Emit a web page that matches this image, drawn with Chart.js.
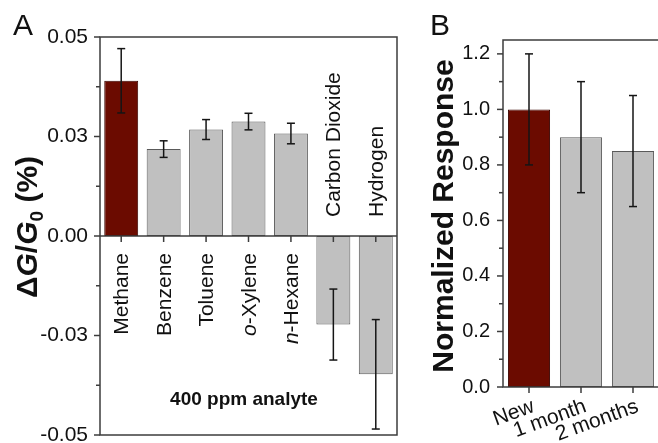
<!DOCTYPE html>
<html><head><meta charset="utf-8">
<script src="https://cdn.jsdelivr.net/npm/chart.js@4.4.1/dist/chart.umd.min.js"></script>
<style>
html,body{margin:0;padding:0;background:#fff;overflow:hidden;width:658px;height:443px;position:relative;}
#ca{position:absolute;left:0;top:0;}
#cb{position:absolute;left:400px;top:0;}
</style></head><body>
<canvas id="ca" width="402" height="443"></canvas>
<canvas id="cb" width="266" height="443"></canvas>
<script>
// ---------- Panel A data ----------
const categoriesA = ["Methane","Benzene","Toluene","o-Xylene","n-Hexane","Carbon Dioxide","Hydrogen"];
const valuesA = [0.0468, 0.0262, 0.0321, 0.0345, 0.0309, -0.0267, -0.0417];
const errorsA = [0.0097, 0.0025, 0.0030, 0.0025, 0.0031, 0.0107, 0.0165];
const majorTicksA = [-0.06, -0.03, 0, 0.03, 0.06];
const tickLabelsA = ["-0.05", "-0.03", "0.00", "0.03", "0.05"];
const minorTicksA = [-0.045, -0.015, 0.015, 0.045];

// ---------- Panel B data ----------
const categoriesB = ["New", "1 month", "2 months"];
const valuesB = [1.0, 0.9, 0.85];
const errorsB = [0.2, 0.2, 0.2];
const majorTicksB = [0, 0.2, 0.4, 0.6, 0.8, 1.0, 1.2];
const tickLabelsB = ["0.0", "0.2", "0.4", "0.6", "0.8", "1.0", "1.2"];
const minorTicksB = [0.1, 0.3, 0.5, 0.7, 0.9, 1.1];

const FONT = '"Liberation Sans", Arial, Helvetica, sans-serif';
const RED = '#6b0b00', RED_B = '#3a0600';
const GRAY = '#c0c0c0', GRAY_B = '#5a5a5a';
const AXIS = '#3c3c3c', TEXT = '#111111', ERR = '#151515';

function line(ctx, x1, y1, x2, y2) { ctx.beginPath(); ctx.moveTo(x1, y1); ctx.lineTo(x2, y2); ctx.stroke(); }

function drawRich(ctx, parts, x, y, rot, align) {
  ctx.save();
  ctx.translate(x, y);
  ctx.rotate(rot);
  let total = 0;
  parts.forEach(p => { ctx.font = p.font; p.w = ctx.measureText(p.t).width; total += p.w; });
  let cx = align === 'center' ? -total / 2 : align === 'right' ? -total : 0;
  ctx.textAlign = 'left';
  ctx.textBaseline = 'alphabetic';
  ctx.fillStyle = TEXT;
  parts.forEach(p => { ctx.font = p.font; ctx.fillText(p.t, cx, p.dy || 0); cx += p.w; });
  ctx.restore();
}

function labelParts(name, size) {
  const m = name.match(/^([on])-(.*)$/);
  if (m) return [{ t: m[1], font: `italic ${size}px ${FONT}` }, { t: '-' + m[2], font: `${size}px ${FONT}` }];
  return [{ t: name, font: `${size}px ${FONT}` }];
}

function errorBars(chart, errors, cap) {
  const ctx = chart.ctx, meta = chart.getDatasetMeta(0), ys = chart.scales.y;
  const vals = chart.data.datasets[0].data;
  ctx.save(); ctx.strokeStyle = ERR; ctx.lineWidth = 1.5;
  meta.data.forEach((bar, i) => {
    const x = bar.x;
    const yt = ys.getPixelForValue(vals[i] + errors[i]);
    const yb = ys.getPixelForValue(vals[i] - errors[i]);
    line(ctx, x, yt, x, yb);
    line(ctx, x - cap, yt, x + cap, yt);
    line(ctx, x - cap, yb, x + cap, yb);
  });
  ctx.restore();
}

function yTicks(chart, majors, minors) {
  const ctx = chart.ctx, a = chart.chartArea, ys = chart.scales.y;
  ctx.save(); ctx.strokeStyle = AXIS; ctx.lineWidth = 1.5;
  majors.forEach(v => { const y = ys.getPixelForValue(v); line(ctx, a.left - 6, y, a.left, y); });
  minors.forEach(v => { const y = ys.getPixelForValue(v); line(ctx, a.left - 4, y, a.left, y); });
  ctx.restore();
}

// ---------- Panel A ----------
const pluginA = {
  id: 'decoA',
  afterDatasetsDraw(chart) {
    const ctx = chart.ctx, a = chart.chartArea, ys = chart.scales.y, xs = chart.scales.x;
    const y0 = ys.getPixelForValue(0);
    ctx.save();
    ctx.strokeStyle = AXIS; ctx.lineWidth = 1.5;
    ctx.strokeRect(a.left, a.top, a.right - a.left, a.bottom - a.top);
    line(ctx, a.left, y0, a.right, y0);
    categoriesA.forEach((c, i) => { const x = xs.getPixelForValue(i); line(ctx, x, y0, x, y0 + 6); });
    ctx.restore();
    yTicks(chart, majorTicksA, minorTicksA);
    errorBars(chart, errorsA, 4);
    categoriesA.forEach((c, i) => {
      const x = xs.getPixelForValue(i) + 7;
      if (valuesA[i] >= 0) drawRich(ctx, labelParts(c, 21), x, y0 + 17, -Math.PI / 2, 'right');
      else drawRich(ctx, labelParts(c, 21), x, y0 - 19, -Math.PI / 2, 'left');
    });
    ctx.save();
    ctx.font = `bold 19px ${FONT}`; ctx.fillStyle = TEXT; ctx.textAlign = 'center'; ctx.textBaseline = 'middle';
    ctx.fillText('400 ppm analyte', 244, 400);
    ctx.restore();
    drawRich(ctx, [
      { t: 'Δ', font: `bold 30px ${FONT}` },
      { t: 'G', font: `italic bold 30px ${FONT}` },
      { t: '/', font: `bold 30px ${FONT}` },
      { t: 'G', font: `italic bold 30px ${FONT}` },
      { t: '0', font: `bold 19px ${FONT}`, dy: 6 },
      { t: ' (%)', font: `bold 30px ${FONT}` }
    ], 37, 227, -Math.PI / 2, 'center');
    ctx.save(); ctx.font = `30px ${FONT}`; ctx.fillStyle = TEXT; ctx.textBaseline = 'alphabetic';
    ctx.fillText('A', 13, 35); ctx.restore();
  }
};

new Chart(document.getElementById('ca'), {
  type: 'bar',
  data: {
    labels: categoriesA,
    datasets: [{
      data: valuesA,
      backgroundColor: categoriesA.map((c, i) => i === 0 ? RED : GRAY),
      borderColor: categoriesA.map((c, i) => i === 0 ? RED_B : GRAY_B),
      borderWidth: 1, borderSkipped: false,
      categoryPercentage: 1, barPercentage: 0.8
    }]
  },
  options: {
    responsive: false, animation: false, devicePixelRatio: 1,
    layout: { padding: { left: 0, top: 37, right: 5, bottom: 8 } },
    plugins: { legend: { display: false }, tooltip: { enabled: false } },
    scales: {
      x: { display: false },
      y: {
        min: -0.06, max: 0.06,
        afterBuildTicks: s => { s.ticks = majorTicksA.map(v => ({ value: v })); },
        afterFit: s => { s.width = 100; s.paddingTop = 0; s.paddingBottom = 0; },
        grid: { display: false, drawTicks: false },
        border: { display: false },
        ticks: { callback: (v, i) => tickLabelsA[i], font: { family: FONT, size: 21 }, color: TEXT, padding: 12 }
      }
    }
  },
  plugins: [pluginA]
});

// ---------- Panel B ----------
const pluginB = {
  id: 'decoB',
  afterDatasetsDraw(chart) {
    const ctx = chart.ctx, a = chart.chartArea, ys = chart.scales.y, xs = chart.scales.x;
    ctx.save();
    ctx.strokeStyle = AXIS; ctx.lineWidth = 1.5;
    ctx.strokeRect(a.left, a.top, a.right - a.left, a.bottom - a.top);
    categoriesB.forEach((c, i) => { const x = xs.getPixelForValue(i); line(ctx, x, a.bottom, x, a.bottom + 6); });
    ctx.restore();
    yTicks(chart, majorTicksB, minorTicksB);
    errorBars(chart, errorsB, 4);
    categoriesB.forEach((c, i) => {
      const x = xs.getPixelForValue(i);
      ctx.save();
      ctx.translate(x + 1, a.bottom + 9);
      ctx.rotate(-20 * Math.PI / 180);
      ctx.font = `21px ${FONT}`; ctx.fillStyle = TEXT; ctx.textAlign = 'right'; ctx.textBaseline = 'top';
      ctx.fillText(c, 0, 0);
      ctx.restore();
    });
    drawRich(ctx, [{ t: 'Normalized Response', font: `bold 30px ${FONT}` }], 53, 216, -Math.PI / 2, 'center');
    ctx.save(); ctx.font = `30px ${FONT}`; ctx.fillStyle = TEXT; ctx.textBaseline = 'alphabetic';
    ctx.fillText('B', 30, 35); ctx.restore();
  }
};

new Chart(document.getElementById('cb'), {
  type: 'bar',
  data: {
    labels: categoriesB,
    datasets: [{
      data: valuesB,
      backgroundColor: categoriesB.map((c, i) => i === 0 ? RED : GRAY),
      borderColor: categoriesB.map((c, i) => i === 0 ? RED_B : GRAY_B),
      borderWidth: 1, borderSkipped: false,
      categoryPercentage: 1, barPercentage: 0.81
    }]
  },
  options: {
    responsive: false, animation: false, devicePixelRatio: 1,
    layout: { padding: { left: 0, top: 40, right: 7, bottom: 56 } },
    plugins: { legend: { display: false }, tooltip: { enabled: false } },
    scales: {
      x: { display: false },
      y: {
        min: 0, max: 1.25,
        afterBuildTicks: s => { s.ticks = majorTicksB.map(v => ({ value: v })); },
        afterFit: s => { s.width = 103; s.paddingTop = 0; s.paddingBottom = 0; },
        grid: { display: false, drawTicks: false },
        border: { display: false },
        ticks: { callback: (v, i) => tickLabelsB[i], font: { family: FONT, size: 20 }, color: TEXT, padding: 13 }
      }
    }
  },
  plugins: [pluginB]
});
</script>
</body></html>
